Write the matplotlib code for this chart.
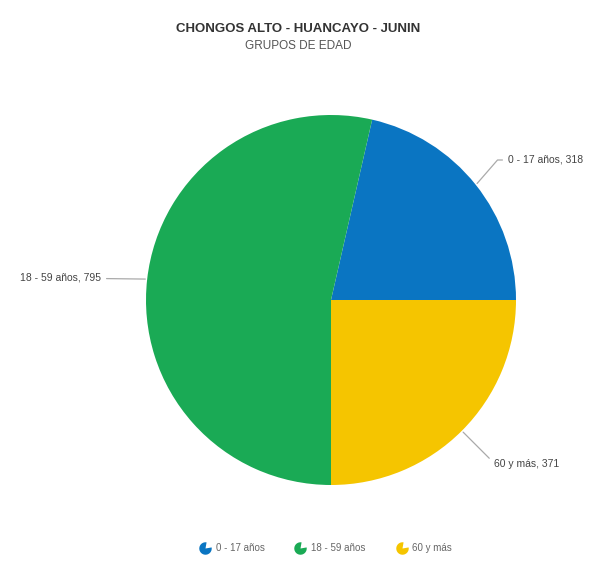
import numpy as np
import matplotlib
matplotlib.use("Agg")
import matplotlib.pyplot as plt
from matplotlib.lines import Line2D
from matplotlib.path import Path

categories = ["0 - 17 años", "18 - 59 años", "60 y más"]
values = [318, 795, 371]
colors = ["#0a75c2", "#1aaa55", "#f5c500"]

plt.rcParams['font.family'] = ['Liberation Sans', 'DejaVu Sans']

W, H = 597, 564
fig = plt.figure(figsize=(W / 100, H / 100), dpi=100)
cx, cy, r = 331, 300, 185
ax = fig.add_axes([(cx - r) / W, 1 - (cy + r) / H, 2 * r / W, 2 * r / H])
wedges, _ = ax.pie(values, colors=colors, startangle=0, counterclock=True,
                   wedgeprops=dict(linewidth=0))
ax.set_xlim(-1, 1)
ax.set_ylim(-1, 1)
ax.set_aspect('equal')

# label text positions in figure pixels (x, y from top)
text_pos = [(508, 160), (101, 278), (494, 464)]
conn = ['angle,angleA=0,angleB=49,rad=0', 'arc3,rad=0', 'angle,angleA=0,angleB=-45,rad=0']
for w, cat, v, tp, cs in zip(wedges, categories, values, text_pos, conn):
    ang = np.deg2rad((w.theta1 + w.theta2) / 2)
    x, y = np.cos(ang), np.sin(ang)
    ha = 'left' if x > 0 else 'right'
    ax.annotate(f"{cat}, {v}", xy=(x * 1.01, y * 1.01),
                xytext=(tp[0] / W, 1 - tp[1] / H), textcoords='figure fraction',
                ha=ha, va='center', fontsize=7.5, color='#444444',
                annotation_clip=False,
                arrowprops=dict(arrowstyle='-', color='#aaaaaa', lw=0.9,
                                shrinkA=2, shrinkB=0, connectionstyle=cs))

fig.text(0.5, 1 - 29 / H, "CHONGOS ALTO - HUANCAYO - JUNIN", ha='center', va='center',
         fontsize=9.5, fontweight='bold', color='#333333')
fig.text(0.5, 1 - 46 / H, "GRUPOS DE EDAD", ha='center', va='center',
         fontsize=8.5, color='#555555')

icon = Path.wedge(80, 370)
handles = [Line2D([], [], linestyle='none', marker=icon, markersize=9,
                  markerfacecolor=c, markeredgecolor='none') for c in colors]
fig.legend(handles, categories, loc='center', bbox_to_anchor=(326 / W, 1 - 548 / H),
           ncol=3, frameon=False, fontsize=7, handlelength=1.0,
           columnspacing=3.2, handletextpad=0.6, labelcolor='#666666')

fig.savefig("out.png", dpi=100, facecolor='white')
